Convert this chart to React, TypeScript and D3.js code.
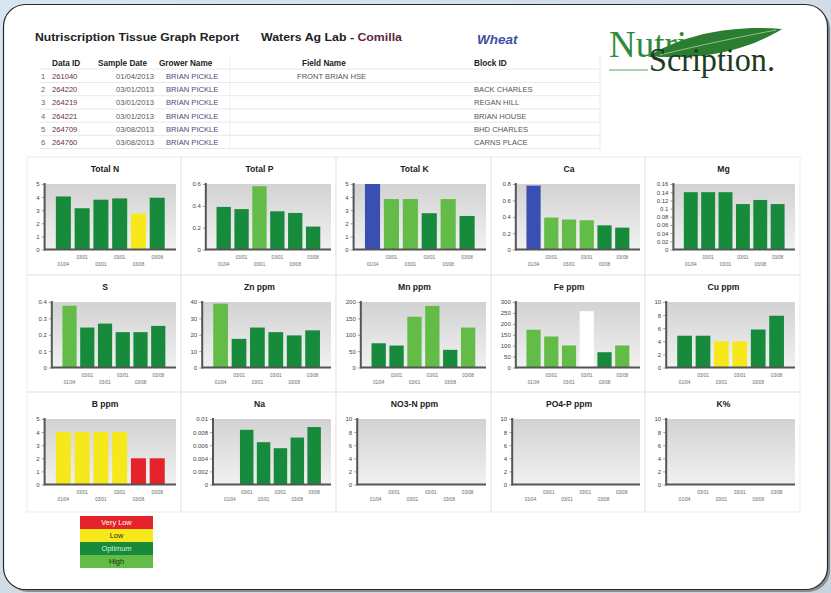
import React, { useRef, useEffect } from 'react';
import * as d3 from 'd3';

const W = 831;
const H = 593;

// report table
const rowNumbers = ['1', '2', '3', '4', '5', '6'];
const dataIds = ['261040', '264220', '264219', '264221', '264709', '264760'];
const sampleDates = ['01/04/2013', '03/01/2013', '03/01/2013', '03/01/2013', '03/08/2013', '03/08/2013'];
const growerNames = ['BRIAN PICKLE', 'BRIAN PICKLE', 'BRIAN PICKLE', 'BRIAN PICKLE', 'BRIAN PICKLE', 'BRIAN PICKLE'];
const fieldNames = ['FRONT BRIAN HSE', '', '', '', '', ''];
const blockIds = ['', 'BACK CHARLES', 'REGAN HILL', 'BRIAN HOUSE', 'BHD CHARLES', 'CARNS PLACE'];

// x labels under every chart
const dateLabels = ['01/04', '03/01', '03/01', '03/01', '03/08', '03/08'];

// charts
const panelTitles = ['Total N', 'Total P', 'Total K', 'Ca', 'Mg', 'S', 'Zn ppm', 'Mn ppm', 'Fe ppm', 'Cu ppm', 'B ppm', 'Na', 'NO3-N ppm', 'PO4-P ppm', 'K%'];
const panelMax = [5, 0.6, 5, 0.8, 0.16, 0.4, 40, 200, 300, 10, 5, 0.01, 10, 10, 10];
const panelStep = [1, 0.2, 1, 0.2, 0.02, 0.1, 10, 50, 50, 2, 1, 0.002, 2, 2, 2];
const panelValues: (number | null)[][] = [
  [4.05, 3.15, 3.8, 3.9, 2.75, 3.95],
  [0.39, 0.37, 0.58, 0.35, 0.335, 0.21],
  [5, 3.85, 3.85, 2.77, 3.85, 2.56],
  [0.78, 0.39, 0.366, 0.357, 0.295, 0.267],
  [0.14, 0.14, 0.14, 0.111, 0.121, 0.111],
  [0.377, 0.244, 0.268, 0.216, 0.216, 0.254],
  [39, 17.5, 24.4, 21.6, 19.6, 22.7],
  [74, 67, 155, 188, 54, 122],
  [173, 142, 101, 258, 70, 101],
  [4.85, 4.85, 4.0, 4.0, 5.8, 7.9],
  [4, 4, 4, 4, 2, 2],
  [null, 0.00835, 0.00646, 0.00554, 0.00717, 0.00877],
  [null, null, null, null, null, null],
  [null, null, null, null, null, null],
  [null, null, null, null, null, null],
];
// VL very low, L low, O optimum, H high, X excess, N no range
const panelLevels = [
  ['O', 'O', 'O', 'O', 'L', 'O'],
  ['O', 'O', 'H', 'O', 'O', 'O'],
  ['X', 'H', 'H', 'O', 'H', 'O'],
  ['X', 'H', 'H', 'H', 'O', 'O'],
  ['O', 'O', 'O', 'O', 'O', 'O'],
  ['H', 'O', 'O', 'O', 'O', 'O'],
  ['H', 'O', 'O', 'O', 'O', 'O'],
  ['O', 'O', 'H', 'H', 'O', 'H'],
  ['H', 'H', 'H', 'N', 'O', 'H'],
  ['O', 'O', 'L', 'L', 'O', 'O'],
  ['L', 'L', 'L', 'L', 'VL', 'VL'],
  ['O', 'O', 'O', 'O', 'O', 'O'],
  ['O', 'O', 'O', 'O', 'O', 'O'],
  ['O', 'O', 'O', 'O', 'O', 'O'],
  ['O', 'O', 'O', 'O', 'O', 'O'],
];

const legendLabels = ['Very Low', 'Low', 'Optimum', 'High'];
const legendKeys = ['VL', 'L', 'O', 'H'];

const levelColor: Record<string, string> = {
  VL: '#e5232b',
  L: '#f7e81c',
  O: '#178a3c',
  H: '#62bc47',
  X: '#3a4fb3',
  N: '#ffffff',
};

const colEdges = [27, 181, 336, 491, 645, 800];
const rowEdges = [157, 275, 392, 512];

const App = () => {
  const ref = useRef<SVGSVGElement>(null);

  useEffect(() => {
    const svg = d3.select(ref.current);
    svg.selectAll('*').remove();

    const defs = svg.append('defs');
    const bg = defs.append('linearGradient').attr('id', 'pageBg').attr('x1', 0).attr('y1', 0).attr('x2', 1).attr('y2', 1);
    bg.append('stop').attr('offset', '0%').attr('stop-color', '#d9e5ef');
    bg.append('stop').attr('offset', '100%').attr('stop-color', '#c9d3dc');
    const plotBg = defs.append('linearGradient').attr('id', 'plotBg').attr('x1', 0).attr('y1', 0).attr('x2', 0).attr('y2', 1);
    plotBg.append('stop').attr('offset', '0%').attr('stop-color', '#d2d2d2');
    plotBg.append('stop').attr('offset', '100%').attr('stop-color', '#f1f1f1');

    // page frame
    svg.append('rect').attr('width', W).attr('height', H).attr('fill', 'url(#pageBg)');
    svg.append('rect').attr('x', 6).attr('y', 7).attr('width', 824).attr('height', 585).attr('rx', 22).attr('fill', '#8c8c8c');
    svg.append('rect').attr('x', 3.5).attr('y', 4.5).attr('width', 824).attr('height', 585).attr('rx', 22)
      .attr('fill', '#fff').attr('stroke', '#2a2a2a').attr('stroke-width', 1.2);

    const font = 'Liberation Sans, Arial, sans-serif';

    // header
    svg.append('text').attr('x', 35).attr('y', 41).attr('font-family', font).attr('font-weight', 'bold')
      .attr('font-size', 11).attr('fill', '#222').attr('textLength', 204).attr('lengthAdjust', 'spacingAndGlyphs')
      .text('Nutriscription Tissue Graph Report');
    const lab = svg.append('text').attr('x', 261).attr('y', 41).attr('font-family', font).attr('font-weight', 'bold')
      .attr('font-size', 11).attr('fill', '#222').attr('textLength', 141).attr('lengthAdjust', 'spacingAndGlyphs');
    lab.append('tspan').text('Waters Ag Lab - ');
    lab.append('tspan').attr('fill', '#5a2740').text('Comilla');
    svg.append('text').attr('x', 477).attr('y', 44).attr('font-family', font).attr('font-weight', 'bold')
      .attr('font-style', 'italic').attr('font-size', 13.5).attr('fill', '#3c4fa6').text('Wheat');

    // table
    const rowY = (i: number) => 79 + i * 13.2;
    const table = svg.append('g').attr('font-family', font);
    const headers = [['Data ID', 52], ['Sample Date', 98], ['Grower Name', 159], ['Field Name', 302], ['Block ID', 474]];
    headers.forEach(([t, x]) => {
      table.append('text').attr('x', x as number).attr('y', 65.5).attr('font-size', 8.2).attr('font-weight', 'bold')
        .attr('fill', '#222').text(t as string);
    });
    [69].concat(rowNumbers.map((_, i) => rowY(i) + 3.5)).forEach(y => {
      table.append('line').attr('x1', 40).attr('x2', 600).attr('y1', y).attr('y2', y)
        .attr('stroke', '#e3e3e3').attr('stroke-width', 0.8);
    });
    table.append('line').attr('x1', 600).attr('x2', 600).attr('y1', 56).attr('y2', 151)
      .attr('stroke', '#e3e3e3').attr('stroke-width', 0.8);
    table.append('line').attr('x1', 230).attr('x2', 230).attr('y1', 56).attr('y2', 151)
      .attr('stroke', '#eeeeee').attr('stroke-width', 0.8);
    rowNumbers.forEach((n, i) => {
      const y = rowY(i);
      const cells: [string, number, string, string][] = [
        [n, 41, '#666', 'start'],
        [dataIds[i], 52, '#6b3045', 'start'],
        [sampleDates[i], 154, '#555', 'end'],
        [growerNames[i], 166, '#4b4b78', 'start'],
        [fieldNames[i], 297, '#555', 'start'],
        [blockIds[i], 474, '#555', 'start'],
      ];
      cells.forEach(([t, x, c, a]) => {
        table.append('text').attr('x', x).attr('y', y).attr('font-size', 7.6).attr('fill', c)
          .attr('text-anchor', a).text(t);
      });
    });

    // logo
    const logo = svg.append('g');
    logo.append('text').attr('x', 609).attr('y', 57).attr('font-family', 'Liberation Serif, serif')
      .attr('font-size', 37).attr('fill', '#2f8a3c').text('Nutri');
    logo.append('path')
      .attr('d', 'M650,55 C688,33 735,25 782,29 C760,43 720,58 672,57 C663,57 656,57 650,55 Z')
      .attr('fill', '#2c7d32');
    logo.append('path')
      .attr('d', 'M660,55 C700,45 740,37 776,30')
      .attr('stroke', '#a8d39a').attr('stroke-width', 0.8).attr('fill', 'none');
    logo.append('line').attr('x1', 609).attr('x2', 648).attr('y1', 70).attr('y2', 70)
      .attr('stroke', '#2f8a3c').attr('stroke-width', 0.8);
    logo.append('text').attr('x', 649).attr('y', 71).attr('font-family', 'Liberation Serif, serif')
      .attr('font-size', 33).attr('fill', '#1d3b22').attr('textLength', 126).attr('lengthAdjust', 'spacingAndGlyphs')
      .text('Scription.');

    // chart panels
    panelTitles.forEach((title, p) => {
      const c = p % 5;
      const r = Math.floor(p / 5);
      const x0 = colEdges[c];
      const x1 = colEdges[c + 1];
      const y0 = rowEdges[r];
      const y1 = rowEdges[r + 1];
      const g = svg.append('g').attr('font-family', font);

      g.append('rect').attr('x', x0).attr('y', y0).attr('width', x1 - x0).attr('height', y1 - y0)
        .attr('fill', 'none').attr('stroke', '#e6e6e6').attr('stroke-width', 0.8);

      const fmt = d3.format('~g');
      const tickVals = d3.range(0, panelMax[p] + panelStep[p] / 2, panelStep[p]);
      const maxLen = d3.max(tickVals, v => fmt(v).length) || 1;
      const left = x0 + 14 + 3.6 * maxLen;
      const right = x1 - 5;
      const top = y0 + 27;
      const bottom = y0 + 92.5;

      g.append('text').attr('x', (x0 + x1) / 2 + 1).attr('y', y0 + 14.5).attr('text-anchor', 'middle')
        .attr('font-size', 8.6).attr('font-weight', 'bold').attr('fill', '#222').text(title);

      const x = d3.scaleBand<number>().domain(d3.range(6)).range([left, right]).paddingInner(0.2).paddingOuter(0.6);
      const y = d3.scaleLinear().domain([0, panelMax[p]]).range([bottom, top]);

      g.append('rect').attr('x', left).attr('y', top).attr('width', right - left).attr('height', bottom - top)
        .attr('fill', 'url(#plotBg)');

      g.selectAll('rect.bar')
        .data(panelValues[p].map((v, i) => ({ v, i })).filter(d => d.v !== null))
        .enter().append('rect')
        .attr('class', 'bar')
        .attr('x', d => x(d.i) as number)
        .attr('width', x.bandwidth())
        .attr('y', d => y(d.v as number))
        .attr('height', d => bottom - y(d.v as number))
        .attr('fill', d => levelColor[panelLevels[p][d.i]]);

      // y axis
      const yAxis = g.append('g').attr('transform', `translate(${left},0)`)
        .call(d3.axisLeft(y).tickValues(tickVals).tickFormat(v => fmt(v as number)).tickSize(3).tickPadding(2));
      yAxis.select('.domain').remove();
      yAxis.selectAll('text').attr('font-size', 6).attr('fill', '#444').attr('font-family', font);
      yAxis.selectAll('line').attr('stroke', '#666').attr('stroke-width', 0.6);

      g.append('line').attr('x1', left).attr('x2', left).attr('y1', top - 1).attr('y2', bottom + 1)
        .attr('stroke', '#555').attr('stroke-width', 2);
      g.append('line').attr('x1', left).attr('x2', right).attr('y1', bottom).attr('y2', bottom)
        .attr('stroke', '#555').attr('stroke-width', 2);

      // staggered date labels
      dateLabels.forEach((t, i) => {
        g.append('text').attr('x', (x(i) as number) + x.bandwidth() / 2)
          .attr('y', bottom + (i % 2 === 1 ? 9 : 16)).attr('text-anchor', 'middle')
          .attr('font-size', 4.6).attr('fill', '#666').text(t);
      });
    });

    // legend
    const lx = 80;
    const lw = 73;
    const lrow = 13;
    const legend = svg.append('g').attr('font-family', font);
    legendLabels.forEach((t, i) => {
      legend.append('rect').attr('x', lx).attr('y', 516 + i * lrow).attr('width', lw).attr('height', lrow)
        .attr('fill', levelColor[legendKeys[i]]);
      legend.append('text').attr('x', lx + lw / 2).attr('y', 516 + i * lrow + 9.2).attr('text-anchor', 'middle')
        .attr('font-size', 7.4).attr('fill', i === 0 ? '#fff' : i === 2 ? '#d8f0dc' : '#1c2a10').text(t);
    });
  }, []);

  return <svg ref={ref} width={W} height={H} style={{ position: 'absolute', left: 0, top: 0 }} />;
};

export default App;
